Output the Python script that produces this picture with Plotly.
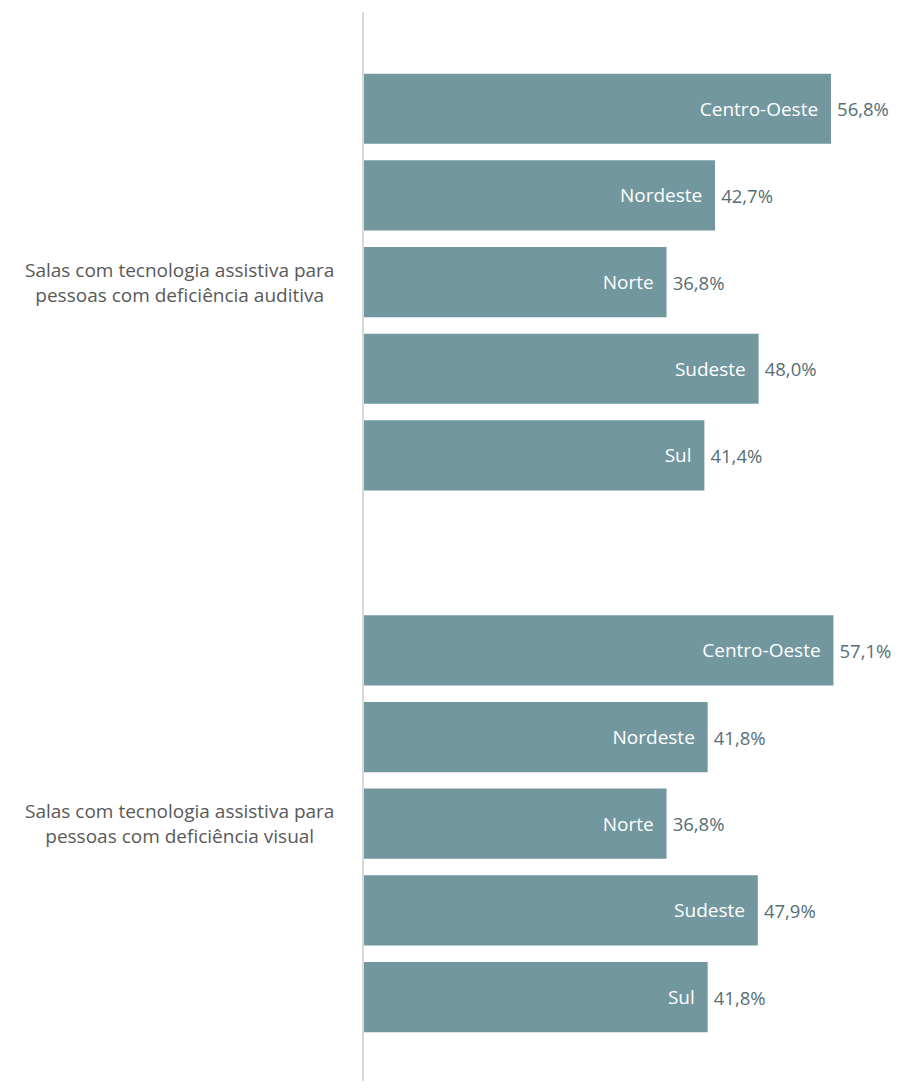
import plotly.graph_objects as go

# dados
categorias = [
  "Salas com tecnologia assistiva para<br>pessoas com deficiência auditiva",
  "Salas com tecnologia assistiva para<br>pessoas com deficiência visual",
]
regioes = ["Centro-Oeste", "Nordeste", "Norte", "Sudeste", "Sul"]
valores = {
  "Centro-Oeste": [56.8, 57.1],
  "Nordeste": [42.7, 41.8],
  "Norte": [36.8, 36.8],
  "Sudeste": [48.0, 47.9],
  "Sul": [41.4, 41.8],
}

corBarra = "#73979f"
corValor = "#566e76"
fonte = "Open Sans"

fig = go.Figure()

for reg in regioes:
  # barra com o nome da região dentro
  fig.add_trace(go.Bar(
    y=categorias, x=valores[reg], orientation="h",
    name=reg, offsetgroup=reg,
    marker=dict(color=corBarra, line=dict(width=0)),
    text=[reg + "\u00a0\u00a0" for _ in categorias],
    textposition="inside", insidetextanchor="end",
    textfont=dict(color="white", size=19, family=fonte),
    cliponaxis=False, hoverinfo="skip",
  ))
  # valor fora da barra
  fig.add_trace(go.Bar(
    y=categorias, x=valores[reg], orientation="h",
    name=reg + " valor", offsetgroup=reg,
    marker=dict(color="rgba(0,0,0,0)", line=dict(width=0)),
    text=["\u2009" + f"{v:.1f}".replace(".", ",") + "%" for v in valores[reg]],
    textposition="outside",
    textfont=dict(color=corValor, size=18.5, family=fonte),
    cliponaxis=False,
  ))

for cat in categorias:
  fig.add_annotation(
    x=-0.3485, xref="paper", y=cat, yref="y",
    text=cat, showarrow=False, xanchor="center", align="center",
    font=dict(color="#595959", size=19, family=fonte),
  )

fig.update_layout(
  width=884, height=1073,
  margin=dict(l=356, r=0, t=4, b=0),
  barmode="group", bargap=0.2, bargroupgap=0.19,
  plot_bgcolor="white", paper_bgcolor="white",
  showlegend=False,
  font=dict(family=fonte),
)
fig.update_xaxes(range=[0, 64.22], visible=False, showgrid=False)
fig.update_yaxes(
  range=[1.475, -0.4986], showticklabels=False, showgrid=False,
  showline=True, linecolor="#d9d9d9", linewidth=2, ticks="",
)

fig.write_html("out.html")
